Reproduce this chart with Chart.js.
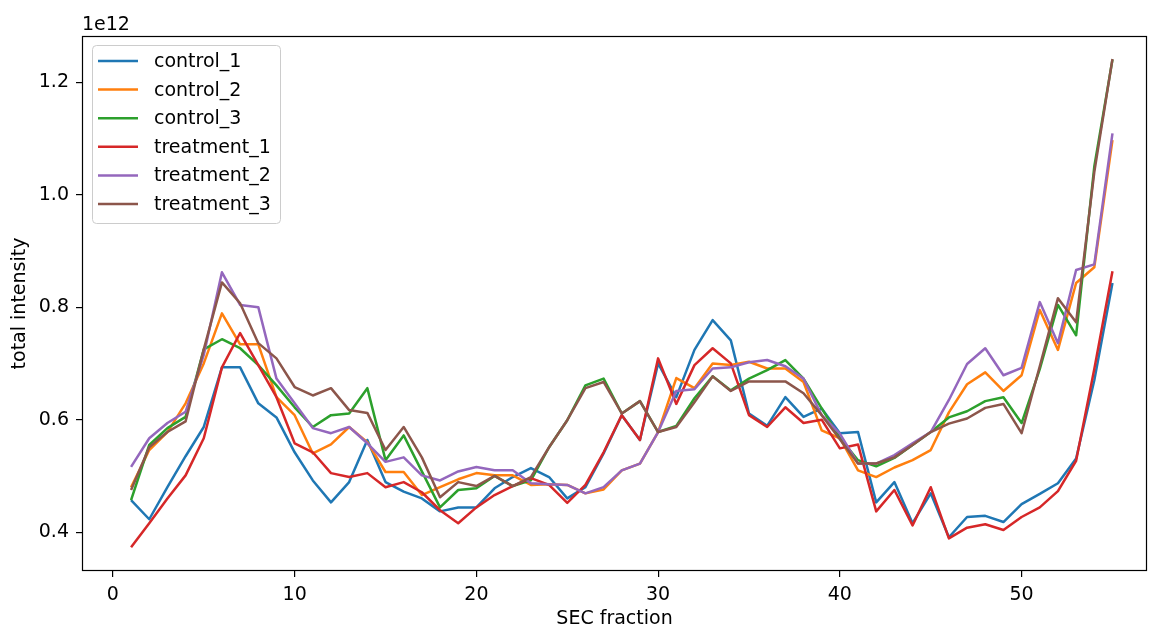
<!DOCTYPE html>
<html>
<head>
<meta charset="utf-8">
<script src="https://cdn.jsdelivr.net/npm/chart.js@4.4.0/dist/chart.umd.min.js"></script>
<style>
  body { margin: 0; background: #fff; }
  canvas { display: block; }
</style>
</head>
<body>
<canvas id="chart" width="1151" height="630"></canvas>
<script>
// SEC fractions on the x axis
const fractions = [1, 2, 3, 4, 5, 6, 7, 8, 9, 10, 11, 12, 13, 14, 15, 16, 17, 18, 19, 20,
  21, 22, 23, 24, 25, 26, 27, 28, 29, 30, 31, 32, 33, 34, 35, 36, 37, 38, 39, 40,
  41, 42, 43, 44, 45, 46, 47, 48, 49, 50, 51, 52, 53, 54, 55];

// total intensity per fraction, in units of 1e12
const control1 = [0.457, 0.423, 0.48, 0.535, 0.587, 0.693, 0.693, 0.629, 0.604, 0.542,
  0.492, 0.453, 0.489, 0.564, 0.489, 0.472, 0.46, 0.437, 0.444, 0.444,
  0.478, 0.498, 0.514, 0.498, 0.46, 0.48, 0.54, 0.608, 0.564, 0.70,
  0.64, 0.724, 0.777, 0.741, 0.611, 0.589, 0.64, 0.605, 0.62, 0.576,
  0.578, 0.453, 0.489, 0.416, 0.469, 0.391, 0.427, 0.429, 0.418, 0.45,
  0.468, 0.487, 0.531, 0.67, 0.843];
const control2 = [0.48, 0.546, 0.578, 0.629, 0.70, 0.789, 0.734, 0.734, 0.64, 0.608,
  0.54, 0.556, 0.587, 0.56, 0.507, 0.507, 0.466, 0.48, 0.494, 0.505,
  0.501, 0.501, 0.484, 0.485, 0.484, 0.469, 0.476, 0.51, 0.522, 0.578,
  0.674, 0.656, 0.70, 0.697, 0.703, 0.691, 0.691, 0.667, 0.581, 0.567,
  0.51, 0.498, 0.515, 0.528, 0.546, 0.613, 0.663, 0.684, 0.651, 0.679,
  0.795, 0.724, 0.843, 0.871, 1.097];
const control3 = [0.457, 0.555, 0.585, 0.605, 0.725, 0.743, 0.727, 0.697, 0.661, 0.622,
  0.587, 0.608, 0.611, 0.656, 0.528, 0.572, 0.508, 0.444, 0.475, 0.478,
  0.50, 0.482, 0.492, 0.551, 0.599, 0.661, 0.673, 0.611, 0.633, 0.578,
  0.589, 0.638, 0.677, 0.652, 0.673, 0.688, 0.706, 0.673, 0.62, 0.568,
  0.528, 0.517, 0.532, 0.555, 0.578, 0.604, 0.615, 0.633, 0.64, 0.594,
  0.69, 0.804, 0.75, 1.05, 1.24];
const treatment1 = [0.373, 0.416, 0.46, 0.501, 0.567, 0.693, 0.754, 0.697, 0.64, 0.558,
  0.542, 0.505, 0.498, 0.505, 0.48, 0.489, 0.471, 0.439, 0.416, 0.444,
  0.466, 0.482, 0.496, 0.484, 0.452, 0.484, 0.542, 0.608, 0.564, 0.709,
  0.628, 0.697, 0.727, 0.70, 0.608, 0.587, 0.622, 0.594, 0.60, 0.549,
  0.556, 0.437, 0.475, 0.412, 0.48, 0.389, 0.408, 0.414, 0.404, 0.427,
  0.444, 0.473, 0.527, 0.69, 0.864];
const treatment2 = [0.516, 0.567, 0.594, 0.614, 0.715, 0.862, 0.804, 0.80, 0.673, 0.629,
  0.585, 0.576, 0.587, 0.558, 0.525, 0.533, 0.501, 0.492, 0.508, 0.516,
  0.51, 0.51, 0.487, 0.485, 0.484, 0.469, 0.48, 0.51, 0.522, 0.578,
  0.651, 0.654, 0.691, 0.693, 0.702, 0.706, 0.695, 0.673, 0.608, 0.575,
  0.522, 0.522, 0.537, 0.558, 0.578, 0.635, 0.699, 0.727, 0.679, 0.692,
  0.809, 0.736, 0.866, 0.876, 1.109];
const treatment3 = [0.475, 0.551, 0.578, 0.597, 0.725, 0.844, 0.807, 0.736, 0.709, 0.658,
  0.643, 0.656, 0.617, 0.612, 0.546, 0.587, 0.533, 0.462, 0.489, 0.482,
  0.50, 0.482, 0.498, 0.551, 0.599, 0.656, 0.667, 0.611, 0.633, 0.578,
  0.587, 0.631, 0.677, 0.651, 0.668, 0.668, 0.668, 0.647, 0.608, 0.565,
  0.522, 0.522, 0.533, 0.555, 0.578, 0.593, 0.602, 0.621, 0.628, 0.576,
  0.695, 0.816, 0.773, 1.04, 1.241];

const seriesNames = ['control_1', 'control_2', 'control_3', 'treatment_1', 'treatment_2', 'treatment_3'];
const seriesValues = [control1, control2, control3, treatment1, treatment2, treatment3];
const colors = ['#1f77b4', '#ff7f0e', '#2ca02c', '#d62728', '#9467bd', '#8c564b'];

const xTicks = [0, 10, 20, 30, 40, 50];
const yTicks = [0.4, 0.6, 0.8, 1.0, 1.2];

const FONT = 'DejaVu Sans';
const FSIZE = 19;

// matplotlib draws later lines on top, chart.js draws lower "order" on top
const datasets = seriesNames.map(function (name, i) {
  return {
    label: name,
    data: fractions.map((f, j) => ({ x: f, y: seriesValues[i][j] })),
    borderColor: colors[i],
    backgroundColor: colors[i],
    borderWidth: 2.5,
    borderJoinStyle: 'round',
    pointRadius: 0,
    tension: 0,
    order: seriesNames.length - i
  };
});

// frame, offset text and legend box
const extras = {
  id: 'extras',
  afterDraw(chart) {
    const ctx = chart.ctx;
    const a = chart.chartArea;
    ctx.save();
    ctx.strokeStyle = '#000';
    ctx.lineWidth = 1.2;
    ctx.strokeRect(Math.round(a.left) + 0.5, Math.round(a.top) + 0.5,
      Math.round(a.right - a.left) - 1, Math.round(a.bottom - a.top) - 1);

    ctx.fillStyle = '#000';
    ctx.font = FSIZE + 'px "' + FONT + '"';
    ctx.textAlign = 'left';
    ctx.textBaseline = 'alphabetic';
    ctx.fillText('1e12', a.left, 30);

    // legend
    const bx = a.left + 10, by = a.top + 9, bw = 188, bh = 178;
    ctx.beginPath();
    ctx.roundRect(bx + 0.5, by + 0.5, bw, bh, 4);
    ctx.fillStyle = 'rgba(255,255,255,0.8)';
    ctx.fill();
    ctx.strokeStyle = '#cccccc';
    ctx.lineWidth = 1;
    ctx.stroke();

    ctx.textBaseline = 'middle';
    chart.data.datasets.forEach(function (ds, i) {
      const ry = by + 16 + i * 28.6;
      ctx.beginPath();
      ctx.moveTo(bx + 6, ry);
      ctx.lineTo(bx + 46, ry);
      ctx.strokeStyle = ds.borderColor;
      ctx.lineWidth = 2.5;
      ctx.stroke();
      ctx.fillStyle = '#000';
      ctx.fillText(ds.label, bx + 62, ry + 1);
    });
    ctx.restore();
  }
};

new Chart(document.getElementById('chart'), {
  type: 'line',
  data: { datasets: datasets },
  options: {
    responsive: false,
    animation: false,
    devicePixelRatio: 1,
    layout: { padding: { top: 36, right: 4, left: 0, bottom: 0 } },
    plugins: {
      legend: { display: false },
      tooltip: { enabled: false }
    },
    scales: {
      x: {
        type: 'linear',
        min: -1.7,
        max: 56.9,
        afterBuildTicks: function (scale) {
          scale.ticks = xTicks.map(v => ({ value: v }));
        },
        afterFit: function (scale) { scale.height = 59; },
        grid: { drawOnChartArea: false, drawTicks: true, tickLength: 6, color: '#000', lineWidth: 1.2 },
        border: { display: false },
        ticks: {
          color: '#000',
          padding: 7,
          maxRotation: 0,
          font: { family: FONT, size: FSIZE },
          callback: v => String(v)
        },
        title: {
          display: true,
          text: 'SEC fraction',
          color: '#000',
          font: { family: FONT, size: FSIZE },
          padding: { top: 0, bottom: 0 }
        }
      },
      y: {
        type: 'linear',
        min: 0.331,
        max: 1.282,
        afterBuildTicks: function (scale) {
          scale.ticks = yTicks.map(v => ({ value: v }));
        },
        afterFit: function (scale) { scale.width = 82; },
        grid: { drawOnChartArea: false, drawTicks: true, tickLength: 6, color: '#000', lineWidth: 1.2 },
        border: { display: false },
        ticks: {
          color: '#000',
          padding: 7,
          font: { family: FONT, size: FSIZE },
          callback: v => v.toFixed(1)
        },
        title: {
          display: true,
          text: 'total intensity',
          color: '#000',
          font: { family: FONT, size: FSIZE },
          padding: { top: 9, bottom: 0 }
        }
      }
    }
  },
  plugins: [extras]
});
</script>
</body>
</html>
